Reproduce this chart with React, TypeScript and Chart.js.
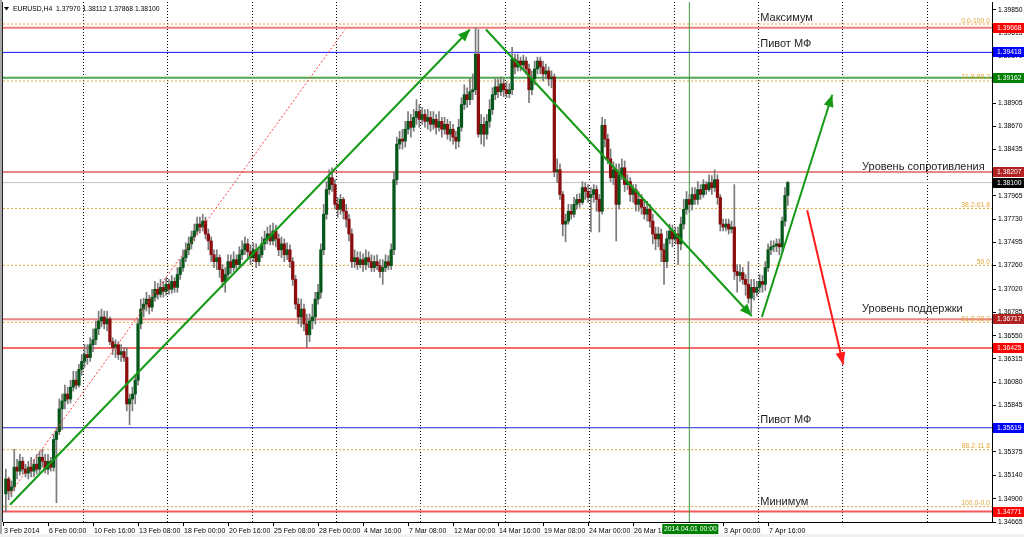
import React, { useEffect, useRef } from "react";
import { Chart, registerables } from "chart.js";

Chart.register(...registerables);

// ---------- DATA ----------
const firstBar = -15; // bar index of the first candle (0 = 6 Feb 00:00, H4 bars)

const opens = [
  1.3495, 1.3510, 1.3498, 1.3502, 1.3522, 1.3518, 1.3528, 1.3520, 1.3516, 1.3522,
  1.3518, 1.3525, 1.3520, 1.3532, 1.3528, 1.3520, 1.3528, 1.3522, 1.3550, 1.3558,
  1.3581, 1.3589, 1.3596, 1.3591, 1.3603, 1.3610, 1.3605, 1.3621, 1.3629, 1.3636,
  1.3633, 1.3646, 1.3651, 1.3662, 1.3670, 1.3674, 1.3667, 1.3672, 1.3649, 1.3643,
  1.3646, 1.3636, 1.3639, 1.3633, 1.3586, 1.3591, 1.3596, 1.3610, 1.3667, 1.3682,
  1.3687, 1.3692, 1.3684, 1.3694, 1.3702, 1.3697, 1.3704, 1.3700, 1.3707, 1.3702,
  1.3710, 1.3704, 1.3717, 1.3724, 1.3734, 1.3742, 1.3748, 1.3755, 1.3761, 1.3768,
  1.3765, 1.3771, 1.3758, 1.3751, 1.3737, 1.3730, 1.3734, 1.3722, 1.3710, 1.3717,
  1.3730, 1.3724, 1.3732, 1.3727, 1.3737, 1.3742, 1.3748, 1.3740, 1.3734, 1.3742,
  1.3730, 1.3737, 1.3748, 1.3753, 1.3758, 1.3751, 1.3761, 1.3753, 1.3742, 1.3748,
  1.3737, 1.3742, 1.3730, 1.3712, 1.3687, 1.3674, 1.3682, 1.3667, 1.3656, 1.3670,
  1.3674, 1.3692, 1.3699, 1.3742, 1.3778, 1.3803, 1.3815, 1.3808, 1.3788, 1.3783,
  1.3793, 1.3781, 1.3773, 1.3758, 1.3730, 1.3734, 1.3727, 1.3732, 1.3727, 1.3734,
  1.3730, 1.3724, 1.3730, 1.3726, 1.3720, 1.3724, 1.3730, 1.3726, 1.3742, 1.3813,
  1.3849, 1.3854, 1.3852, 1.3864, 1.3872, 1.3866, 1.3876, 1.3882, 1.3874, 1.3879,
  1.3872, 1.3876, 1.3869, 1.3874, 1.3866, 1.3872, 1.3864, 1.3869, 1.3859, 1.3864,
  1.3856, 1.3852, 1.3866, 1.3889, 1.3899, 1.3894, 1.3902, 1.3904, 1.3940, 1.3859,
  1.3869, 1.3859, 1.3872, 1.3884, 1.3899, 1.3907, 1.3902, 1.3910, 1.3904, 1.3900,
  1.3904, 1.3935, 1.3927, 1.3933, 1.3929, 1.3933, 1.3925, 1.3904, 1.3915, 1.3925,
  1.3933, 1.3927, 1.3920, 1.3923, 1.3915, 1.3917, 1.3821, 1.3823, 1.3798, 1.3768,
  1.3771, 1.3781, 1.3778, 1.3788, 1.3793, 1.3790, 1.3805, 1.3801, 1.3795, 1.3798,
  1.3803, 1.3793, 1.3781, 1.3868, 1.3854, 1.3834, 1.3815, 1.3823, 1.3788, 1.3818,
  1.3825, 1.3808, 1.3811, 1.3798, 1.3803, 1.3788, 1.3793, 1.3785, 1.3778, 1.3783,
  1.3771, 1.3758, 1.3753, 1.3758, 1.3742, 1.3730, 1.3753, 1.3761, 1.3753, 1.3758,
  1.3748, 1.3768, 1.3783, 1.3793, 1.3788, 1.3798, 1.3793, 1.3803, 1.3798, 1.3808,
  1.3803, 1.3810, 1.3805, 1.3813, 1.3795, 1.3768, 1.3765, 1.3768, 1.3763, 1.3765,
  1.3720, 1.3716, 1.3719, 1.3712, 1.3707, 1.3693, 1.3704, 1.3699, 1.3704, 1.3710,
  1.3707, 1.3724, 1.3742, 1.3745, 1.3746, 1.3748, 1.3745, 1.3771, 1.3797,
];

const highs = [
  1.3520, 1.3512, 1.3508, 1.3540, 1.3530, 1.3535, 1.3532, 1.3525, 1.3528, 1.3532,
  1.3530, 1.3535, 1.3538, 1.3540, 1.3535, 1.3535, 1.3532, 1.3555, 1.3562, 1.3591,
  1.3596, 1.3605, 1.3603, 1.3610, 1.3619, 1.3619, 1.3626, 1.3636, 1.3646, 1.3646,
  1.3653, 1.3662, 1.3670, 1.3680, 1.3682, 1.3680, 1.3680, 1.3674, 1.3653, 1.3651,
  1.3649, 1.3646, 1.3643, 1.3643, 1.3596, 1.3603, 1.3615, 1.3672, 1.3692, 1.3693,
  1.3699, 1.3696, 1.3702, 1.3710, 1.3708, 1.3712, 1.3710, 1.3714, 1.3712, 1.3716,
  1.3714, 1.3724, 1.3732, 1.3742, 1.3749, 1.3755, 1.3761, 1.3768, 1.3775, 1.3775,
  1.3778, 1.3775, 1.3763, 1.3755, 1.3742, 1.3742, 1.3737, 1.3727, 1.3724, 1.3737,
  1.3737, 1.3740, 1.3737, 1.3745, 1.3751, 1.3755, 1.3753, 1.3747, 1.3749, 1.3748,
  1.3745, 1.3755, 1.3761, 1.3765, 1.3767, 1.3769, 1.3767, 1.3758, 1.3755, 1.3753,
  1.3749, 1.3747, 1.3734, 1.3716, 1.3693, 1.3692, 1.3687, 1.3677, 1.3677, 1.3687,
  1.3699, 1.3707, 1.3748, 1.3788, 1.3811, 1.3823, 1.3825, 1.3813, 1.3795, 1.3798,
  1.3795, 1.3788, 1.3778, 1.3763, 1.3742, 1.3740, 1.3740, 1.3738, 1.3742, 1.3740,
  1.3737, 1.3736, 1.3737, 1.3732, 1.3732, 1.3737, 1.3736, 1.3748, 1.3821, 1.3856,
  1.3862, 1.3864, 1.3872, 1.3882, 1.3879, 1.3884, 1.3894, 1.3889, 1.3886, 1.3884,
  1.3884, 1.3882, 1.3882, 1.3879, 1.3882, 1.3876, 1.3876, 1.3874, 1.3872, 1.3869,
  1.3862, 1.3874, 1.3896, 1.3909, 1.3906, 1.3915, 1.3920, 1.39668, 1.3965, 1.3879,
  1.3876, 1.3879, 1.3894, 1.3906, 1.3915, 1.3915, 1.3917, 1.3915, 1.3912, 1.3910,
  1.3947, 1.3940, 1.3940, 1.3937, 1.3939, 1.3937, 1.3930, 1.3923, 1.3933, 1.3937,
  1.3937, 1.3933, 1.3930, 1.3927, 1.3923, 1.3920, 1.3834, 1.3829, 1.3801, 1.3778,
  1.3788, 1.3788, 1.3795, 1.3798, 1.3799, 1.3811, 1.3810, 1.3808, 1.3805, 1.3808,
  1.3807, 1.3798, 1.3876, 1.3874, 1.3859, 1.3844, 1.3831, 1.3829, 1.3829, 1.3834,
  1.3832, 1.3818, 1.3815, 1.3808, 1.3808, 1.3801, 1.3798, 1.3793, 1.3791, 1.3788,
  1.3778, 1.3765, 1.3765, 1.3763, 1.3748, 1.3761, 1.3768, 1.3767, 1.3765, 1.3765,
  1.3775, 1.3793, 1.3801, 1.3798, 1.3805, 1.3805, 1.3811, 1.3808, 1.3813, 1.3811,
  1.3818, 1.3817, 1.3823, 1.3818, 1.3798, 1.3773, 1.3773, 1.3773, 1.3771, 1.3808,
  1.3727, 1.3727, 1.3724, 1.3717, 1.3730, 1.3712, 1.3712, 1.3710, 1.3717, 1.3716,
  1.3730, 1.3748, 1.3751, 1.3751, 1.3753, 1.3753, 1.3775, 1.3805, 1.38112,
];

const lows = [
  1.3477, 1.3489, 1.3492, 1.3498, 1.3510, 1.3514, 1.3515, 1.3512, 1.3510, 1.3512,
  1.3512, 1.3515, 1.3516, 1.3522, 1.3516, 1.3515, 1.3518, 1.3518, 1.3486, 1.3555,
  1.3560, 1.3581, 1.3586, 1.3587, 1.3599, 1.3601, 1.3603, 1.3615, 1.3623, 1.3626,
  1.3629, 1.3639, 1.3646, 1.3656, 1.3664, 1.3662, 1.3660, 1.3646, 1.3636, 1.3633,
  1.3631, 1.3629, 1.3629, 1.3579, 1.3565, 1.3579, 1.3586, 1.3605, 1.3662, 1.3674,
  1.3680, 1.3677, 1.3680, 1.3690, 1.3692, 1.3694, 1.3694, 1.3696, 1.3697, 1.3698,
  1.3699, 1.3699, 1.3712, 1.3720, 1.3730, 1.3737, 1.3743, 1.3751, 1.3757, 1.3759,
  1.3761, 1.3753, 1.3742, 1.3730, 1.3724, 1.3722, 1.3714, 1.3704, 1.3699, 1.3712,
  1.3718, 1.3720, 1.3722, 1.3724, 1.3732, 1.3737, 1.3734, 1.3727, 1.3730, 1.3724,
  1.3726, 1.3734, 1.3742, 1.3748, 1.3747, 1.3747, 1.3745, 1.3736, 1.3734, 1.3730,
  1.3732, 1.3724, 1.3706, 1.3682, 1.3667, 1.3664, 1.3660, 1.3643, 1.3649, 1.3662,
  1.3667, 1.3687, 1.3693, 1.3737, 1.3773, 1.3798, 1.3801, 1.3783, 1.3775, 1.3778,
  1.3773, 1.3765, 1.3751, 1.3724, 1.3724, 1.3722, 1.3724, 1.3720, 1.3722, 1.3724,
  1.3720, 1.3720, 1.3722, 1.3714, 1.3707, 1.3720, 1.3722, 1.3722, 1.3737, 1.3808,
  1.3844, 1.3844, 1.3846, 1.3859, 1.3856, 1.3862, 1.3869, 1.3866, 1.3869, 1.3866,
  1.3864, 1.3862, 1.3864, 1.3859, 1.3862, 1.3856, 1.3859, 1.3854, 1.3852, 1.3849,
  1.3844, 1.3846, 1.3862, 1.3884, 1.3886, 1.3889, 1.3894, 1.3899, 1.3856, 1.3849,
  1.3847, 1.3854, 1.3866, 1.3879, 1.3894, 1.3896, 1.3898, 1.3897, 1.3896, 1.3896,
  1.3899, 1.3920, 1.3923, 1.3923, 1.3925, 1.3920, 1.3891, 1.3899, 1.3909, 1.3920,
  1.3920, 1.3913, 1.3915, 1.3908, 1.3906, 1.3816, 1.3810, 1.3793, 1.3756, 1.3750,
  1.3768, 1.3773, 1.3775, 1.3783, 1.3785, 1.3788, 1.3793, 1.3790, 1.3760, 1.3790,
  1.3781, 1.3760, 1.3778, 1.3846, 1.3829, 1.3811, 1.3808, 1.3751, 1.3783, 1.3813,
  1.3801, 1.3803, 1.3791, 1.3790, 1.3781, 1.3781, 1.3778, 1.3773, 1.3771, 1.3765,
  1.3748, 1.3742, 1.3745, 1.3730, 1.3707, 1.3724, 1.3748, 1.3745, 1.3748, 1.3727,
  1.3742, 1.3763, 1.3778, 1.3780, 1.3782, 1.3788, 1.3788, 1.3793, 1.3795, 1.3798,
  1.3801, 1.3798, 1.3801, 1.3788, 1.3761, 1.3761, 1.3761, 1.3758, 1.3759, 1.3712,
  1.3699, 1.3710, 1.3707, 1.3696, 1.3688, 1.3678, 1.3691, 1.3695, 1.3699, 1.3699,
  1.3701, 1.3720, 1.3737, 1.3740, 1.3740, 1.3737, 1.3740, 1.3766, 1.37868,
];

const closes = [
  1.3510, 1.3498, 1.3502, 1.3522, 1.3518, 1.3528, 1.3520, 1.3516, 1.3522, 1.3518,
  1.3525, 1.3520, 1.3532, 1.3528, 1.3520, 1.3528, 1.3522, 1.3550, 1.3558, 1.3581,
  1.3589, 1.3596, 1.3591, 1.3603, 1.3610, 1.3605, 1.3621, 1.3629, 1.3636, 1.3633,
  1.3646, 1.3651, 1.3662, 1.3670, 1.3674, 1.3667, 1.3672, 1.3649, 1.3643, 1.3646,
  1.3636, 1.3639, 1.3633, 1.3586, 1.3591, 1.3596, 1.3610, 1.3667, 1.3682, 1.3687,
  1.3692, 1.3684, 1.3694, 1.3702, 1.3697, 1.3704, 1.3700, 1.3707, 1.3702, 1.3710,
  1.3704, 1.3717, 1.3724, 1.3734, 1.3742, 1.3748, 1.3755, 1.3761, 1.3768, 1.3765,
  1.3771, 1.3758, 1.3751, 1.3737, 1.3730, 1.3734, 1.3722, 1.3710, 1.3717, 1.3730,
  1.3724, 1.3732, 1.3727, 1.3737, 1.3742, 1.3748, 1.3740, 1.3734, 1.3742, 1.3730,
  1.3737, 1.3748, 1.3753, 1.3758, 1.3751, 1.3761, 1.3753, 1.3742, 1.3748, 1.3737,
  1.3742, 1.3730, 1.3712, 1.3687, 1.3674, 1.3682, 1.3667, 1.3656, 1.3670, 1.3674,
  1.3692, 1.3699, 1.3742, 1.3778, 1.3803, 1.3815, 1.3808, 1.3788, 1.3783, 1.3793,
  1.3781, 1.3773, 1.3758, 1.3730, 1.3734, 1.3727, 1.3732, 1.3727, 1.3734, 1.3730,
  1.3724, 1.3730, 1.3726, 1.3720, 1.3724, 1.3730, 1.3726, 1.3742, 1.3813, 1.3849,
  1.3854, 1.3852, 1.3864, 1.3872, 1.3866, 1.3876, 1.3882, 1.3874, 1.3879, 1.3872,
  1.3876, 1.3869, 1.3874, 1.3866, 1.3872, 1.3864, 1.3869, 1.3859, 1.3864, 1.3856,
  1.3852, 1.3866, 1.3889, 1.3899, 1.3894, 1.3902, 1.3904, 1.3940, 1.3859, 1.3869,
  1.3859, 1.3872, 1.3884, 1.3899, 1.3907, 1.3902, 1.3910, 1.3904, 1.3900, 1.3904,
  1.3935, 1.3927, 1.3933, 1.3929, 1.3933, 1.3925, 1.3904, 1.3915, 1.3925, 1.3933,
  1.3927, 1.3920, 1.3923, 1.3915, 1.3917, 1.3821, 1.3823, 1.3798, 1.3768, 1.3771,
  1.3781, 1.3778, 1.3788, 1.3793, 1.3790, 1.3805, 1.3801, 1.3795, 1.3798, 1.3803,
  1.3793, 1.3781, 1.3868, 1.3854, 1.3834, 1.3815, 1.3823, 1.3788, 1.3818, 1.3825,
  1.3808, 1.3811, 1.3798, 1.3803, 1.3788, 1.3793, 1.3785, 1.3778, 1.3783, 1.3771,
  1.3758, 1.3753, 1.3758, 1.3742, 1.3730, 1.3753, 1.3761, 1.3753, 1.3758, 1.3748,
  1.3768, 1.3783, 1.3793, 1.3788, 1.3798, 1.3793, 1.3803, 1.3798, 1.3808, 1.3803,
  1.3810, 1.3805, 1.3813, 1.3795, 1.3768, 1.3765, 1.3768, 1.3763, 1.3765, 1.3720,
  1.3716, 1.3719, 1.3712, 1.3707, 1.3693, 1.3704, 1.3699, 1.3704, 1.3710, 1.3707,
  1.3724, 1.3742, 1.3745, 1.3746, 1.3748, 1.3745, 1.3771, 1.3797, 1.3810,
];

const xTickBars = [-16, 0, 16, 32, 48, 64, 80, 96, 112, 128, 144, 160, 176, 192, 208, 240, 256];
const xTickLabels = [
  "3 Feb 2014", "6 Feb 00:00", "10 Feb 16:00", "13 Feb 08:00", "18 Feb 00:00", "20 Feb 16:00",
  "25 Feb 08:00", "28 Feb 00:00", "4 Mar 16:00", "7 Mar 08:00", "12 Mar 00:00", "14 Mar 16:00",
  "19 Mar 08:00", "24 Mar 00:00", "26 Mar 16:00", "3 Apr 00:00", "7 Apr 16:00",
];
const yTickValues = [
  1.3985, 1.39615, 1.39379, 1.39143, 1.38905, 1.3867, 1.38435, 1.382, 1.37965, 1.3773,
  1.37495, 1.3726, 1.3702, 1.36785, 1.3655, 1.36315, 1.3608, 1.35845, 1.3561, 1.35375,
  1.3514, 1.349, 1.34665,
];

const levelPrices = [1.39668, 1.39418, 1.39162, 1.38207, 1.381, 1.36717, 1.36425, 1.35619, 1.34771];

const fibHigh = 1.39705;
const fibLow = 1.3482;
const fibRatios = [0, 11.8, 38.2, 50, 61.8, 88.2, 100];
const fibLabels = ["0.0-100.0", "11.8-88.2", "38.2-61.8", "50.0", "61.8-38.2", "88.2-11.8", "100.0-0.0"];

const noteTexts = ["Максимум", "Пивот МФ", "Уровень сопротивления", "Уровень поддержки", "Пивот МФ", "Минимум"];
const noteBars = [253.2, 253.2, 289.4, 289.4, 253.2, 253.2];
const notePrices = [1.3974, 1.3947, 1.3823, 1.3679, 1.3567, 1.3484];

const trendFromBars = [-13.5, 155.7, 253.8, 269.9, -13.6];
const trendFromPrices = [1.3484, 1.3965, 1.3674, 1.3782, 1.3495];
const trendToBars = [150.0, 250.2, 278.8, 282.7, 105.6];
const trendToPrices = [1.3965, 1.3675, 1.3899, 1.3626, 1.3965];

const cursorBar = 228;
const cursorLabel = "2014.04.01 00:00";
const headerText = "EURUSD,H4  1.37970 1.38112 1.37868 1.38100";

// ---------- STYLE ----------
const X_MIN = -16;
const X_MAX = 335.6;
const Y_MIN = 1.34665;
const Y_MAX = 1.39928;
const FONT = "'Liberation Sans', Arial, sans-serif";
const weekGridBars = [12.4, 42.4, 72.4, 102.4, 132.4, 162.4, 192.4, 222.4, 252.4, 282.4, 312.4];
const levelLineColors = ["#f07c7c", "#1010ff", "#4fa84f", "#e88484", "#c0c0c0", "#e88484", "#f56a6a", "#2626d0", "#f55a5a"];
const levelLineWidths = [2, 1, 2, 2, 1, 2, 2, 1, 2];
const levelBoxColors = ["#ff0000", "#0000ff", "#008000", "#b22222", "#000000", "#b22222", "#ff0000", "#0000ff", "#ff0000"];
const trendColors = ["#139a13", "#139a13", "#139a13", "#ff1a1a", "#ff3c3c"];
const trendWidths = [2, 2, 2, 2, 1];
const trendDash = [[], [], [], [], [2, 2]];
const trendArrow = [true, true, true, true, false];
const BULL = "#06561a";
const BEAR = "#8a0c0c";
const WICK = "#7a7a7a";
const FIB_COLOR = "#e3a83a";

export default function App() {
  const ref = useRef<HTMLCanvasElement>(null);

  useEffect(() => {
    const canvas = ref.current;
    if (!canvas) return;
    Chart.defaults.font.family = FONT;

    const bars = opens.map((_, k) => firstBar + k);
    const wickData = bars.map((b, k) => ({ x: b, y: [lows[k], highs[k]] }));
    const bodyData = bars.map((b, k) => ({ x: b, y: [opens[k], closes[k]] }));
    const bodyColors = opens.map((o, k) => (closes[k] >= o ? BULL : BEAR));

    const datasets: any[] = [];
    fibRatios.forEach((r) => {
      const p = fibHigh - ((fibHigh - fibLow) * r) / 100;
      datasets.push({
        type: "line",
        data: [{ x: X_MIN, y: p }, { x: X_MAX, y: p }],
        borderColor: FIB_COLOR,
        borderWidth: 1,
        borderDash: [2, 2],
        pointRadius: 0,
        order: 20,
      });
    });
    levelPrices.forEach((p, k) => {
      datasets.push({
        type: "line",
        data: [{ x: X_MIN, y: p }, { x: X_MAX, y: p }],
        borderColor: levelLineColors[k],
        borderWidth: levelLineWidths[k],
        pointRadius: 0,
        order: 15,
      });
    });
    datasets.push({
      type: "line",
      data: [{ x: cursorBar, y: Y_MIN }, { x: cursorBar, y: Y_MAX }],
      borderColor: "#3f983f",
      borderWidth: 1,
      pointRadius: 0,
      order: 14,
    });
    datasets.push({
      type: "bar",
      data: wickData,
      backgroundColor: WICK,
      barThickness: 1,
      grouped: false,
      borderWidth: 0,
      order: 6,
    });
    datasets.push({
      type: "bar",
      data: bodyData,
      backgroundColor: bodyColors,
      barThickness: 2.6,
      minBarLength: 1,
      grouped: false,
      borderWidth: 0,
      order: 5,
    });
    trendFromBars.forEach((b, k) => {
      datasets.push({
        type: "line",
        data: [{ x: b, y: trendFromPrices[k] }, { x: trendToBars[k], y: trendToPrices[k] }],
        borderColor: trendColors[k],
        borderWidth: trendWidths[k],
        borderDash: trendDash[k],
        pointRadius: 0,
        arrowHead: trendArrow[k],
        order: 1,
      });
    });

    const overlay = {
      id: "overlay",
      beforeDraw(chart: any) {
        const { ctx, width, height } = chart;
        ctx.save();
        ctx.fillStyle = "#ffffff";
        ctx.fillRect(0, 0, width, height);
        ctx.fillStyle = "#f0f0f0";
        ctx.fillRect(0, 534, width, height - 534);
        ctx.restore();
      },
      beforeDatasetsDraw(chart: any) {
        const { ctx, chartArea: a, scales } = chart;
        ctx.save();
        ctx.strokeStyle = "#000000";
        ctx.lineWidth = 1;
        ctx.setLineDash([1, 2]);
        weekGridBars.forEach((b) => {
          const px = Math.round(scales.x.getPixelForValue(b)) + 0.5;
          ctx.beginPath();
          ctx.moveTo(px, a.top);
          ctx.lineTo(px, a.bottom);
          ctx.stroke();
        });
        ctx.restore();
      },
      afterDatasetsDraw(chart: any) {
        const { ctx, chartArea: a, scales } = chart;
        ctx.save();
        chart.data.datasets.forEach((ds: any, di: number) => {
          if (!ds.arrowHead) return;
          const pts = chart.getDatasetMeta(di).data;
          const p0 = pts[0];
          const p1 = pts[1];
          const ang = Math.atan2(p1.y - p0.y, p1.x - p0.x);
          const L = 12;
          const W = 5;
          ctx.fillStyle = ds.borderColor;
          ctx.beginPath();
          ctx.moveTo(p1.x, p1.y);
          ctx.lineTo(p1.x - L * Math.cos(ang) + W * Math.sin(ang), p1.y - L * Math.sin(ang) - W * Math.cos(ang));
          ctx.lineTo(p1.x - L * Math.cos(ang) - W * Math.sin(ang), p1.y - L * Math.sin(ang) + W * Math.cos(ang));
          ctx.closePath();
          ctx.fill();
        });
        ctx.font = `6.8px ${FONT}`;
        ctx.fillStyle = FIB_COLOR;
        ctx.textAlign = "right";
        ctx.textBaseline = "alphabetic";
        fibRatios.forEach((r, k) => {
          const p = fibHigh - ((fibHigh - fibLow) * r) / 100;
          const py = scales.y.getPixelForValue(p);
          ctx.fillText(fibLabels[k], a.right - 2, py - 1.5);
        });
        ctx.font = `11px ${FONT}`;
        ctx.fillStyle = "#1e1e1e";
        ctx.textAlign = "left";
        noteTexts.forEach((t, k) => {
          ctx.fillText(t, scales.x.getPixelForValue(noteBars[k]), scales.y.getPixelForValue(notePrices[k]));
        });
        ctx.restore();
      },
      afterDraw(chart: any) {
        const { ctx, chartArea: a, scales } = chart;
        ctx.save();
        ctx.font = `6.8px ${FONT}`;
        ctx.textAlign = "left";
        ctx.textBaseline = "middle";
        levelPrices.forEach((p, k) => {
          const py = Math.round(scales.y.getPixelForValue(p));
          ctx.fillStyle = levelBoxColors[k];
          ctx.fillRect(a.right + 1, py - 5, 31, 10);
          ctx.fillStyle = "#ffffff";
          ctx.fillText(p.toFixed(5), a.right + 5, py + 0.5);
        });
        const cx = scales.x.getPixelForValue(cursorBar);
        ctx.fillStyle = "#008000";
        ctx.fillRect(cx - 27, a.bottom + 2, 56, 10);
        ctx.fillStyle = "#ffffff";
        ctx.textAlign = "center";
        ctx.fillText(cursorLabel, cx + 1, a.bottom + 7.5);
        ctx.fillStyle = "#000000";
        ctx.textAlign = "left";
        ctx.font = `6.8px ${FONT}`;
        ctx.fillText(headerText, 13, 9);
        ctx.beginPath();
        ctx.moveTo(4, 7);
        ctx.lineTo(9, 7);
        ctx.lineTo(6.5, 10.5);
        ctx.closePath();
        ctx.fill();
        ctx.fillStyle = "#a8a8a8";
        ctx.fillRect(0, 0, 2, 534);
        ctx.strokeStyle = "#202020";
        ctx.lineWidth = 1;
        ctx.beginPath();
        ctx.moveTo(a.left - 0.5, a.top);
        ctx.lineTo(a.left - 0.5, a.bottom);
        ctx.stroke();
        ctx.restore();
      },
    };

    const chart = new Chart(canvas, {
      type: "bar",
      data: { datasets },
      plugins: [overlay],
      options: {
        responsive: false,
        maintainAspectRatio: false,
        animation: false,
        events: [],
        layout: { padding: { left: 3, top: 2, right: 0, bottom: 0 } },
        plugins: { legend: { display: false }, tooltip: { enabled: false } },
        scales: {
          x: {
            type: "linear",
            min: X_MIN,
            max: X_MAX,
            offset: false,
            grid: { display: true, drawOnChartArea: false, drawTicks: true, tickLength: 4, color: "#000", offset: false },
            border: { display: true, color: "#000" },
            ticks: {
              autoSkip: false,
              maxRotation: 0,
              minRotation: 0,
              align: "start",
              padding: 1,
              labelOffset: 1,
              color: "#000",
              font: { size: 7, family: FONT },
              callback: (_v: any, i: number) => xTickLabels[i],
            },
            afterBuildTicks: (s: any) => {
              s.ticks = xTickBars.map((v) => ({ value: v }));
            },
            afterFit: (s: any) => {
              s.height = 15;
              s.paddingLeft = 0;
              s.paddingRight = 0;
            },
          },
          y: {
            type: "linear",
            position: "right",
            min: Y_MIN,
            max: Y_MAX,
            grid: { display: true, drawOnChartArea: false, drawTicks: true, tickLength: 4, color: "#000" },
            border: { display: true, color: "#000" },
            ticks: {
              autoSkip: false,
              padding: 2,
              color: "#000",
              font: { size: 6.8, family: FONT },
              callback: (v: any) => Number(v).toFixed(5),
            },
            afterBuildTicks: (s: any) => {
              s.ticks = yTickValues.map((v) => ({ value: v }));
            },
            afterFit: (s: any) => {
              s.width = 32;
              s.paddingTop = 0;
              s.paddingBottom = 0;
            },
          },
        },
      } as any,
    });
    return () => chart.destroy();
  }, []);

  return (
    <div style={{ position: "fixed", left: 0, top: 0, width: 1024, height: 537, background: "#fff" }}>
      <canvas ref={ref} width={1024} height={537} style={{ display: "block", width: 1024, height: 537 }} />
    </div>
  );
}
